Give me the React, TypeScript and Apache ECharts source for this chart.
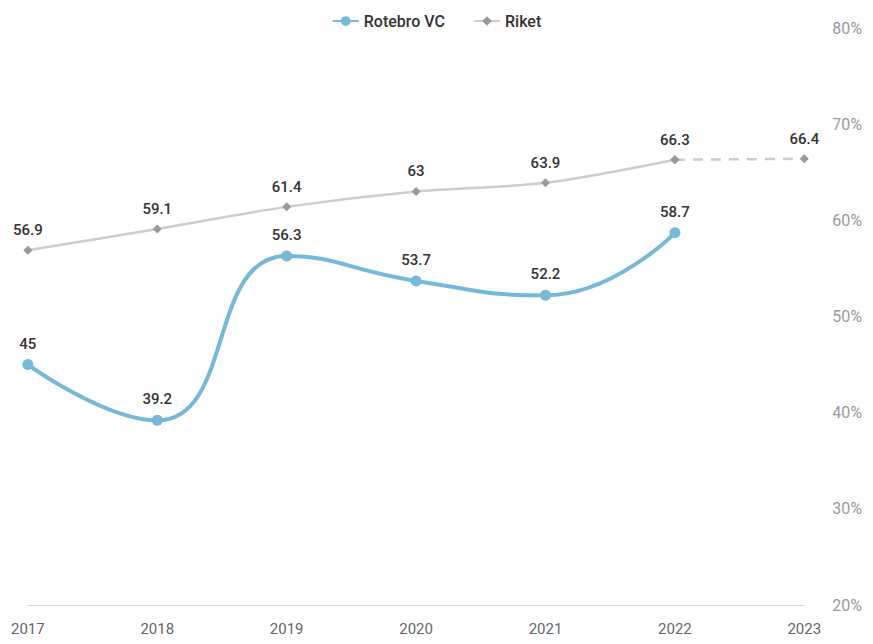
import React, { useEffect, useRef } from "react";
import * as echarts from "echarts";

const years = ["2017", "2018", "2019", "2020", "2021", "2022", "2023"];
const rotebro = [45, 39.2, 56.3, 53.7, 52.2, 58.7, null];
const riket = [56.9, 59.1, 61.4, 63, 63.9, 66.3, null];
const riketForecast = [null, null, null, null, null, 66.3, 66.4];

const FONT = "Roboto, 'Noto Sans', sans-serif";

export default function App() {
  const ref = useRef<HTMLDivElement>(null);
  useEffect(() => {
    const chart = echarts.init(ref.current!, null, { renderer: "svg" });
    const label = {
      show: true,
      position: "top",
      color: "#333",
      fontSize: 15,
      fontWeight: 500,
      fontFamily: FONT,
      distance: 8,
    };
    chart.setOption({
      animation: false,
      textStyle: { fontFamily: FONT },
      legend: {
        top: 0,
        left: "center",
        itemGap: 28,
        itemWidth: 26,
        itemHeight: 12,
        textStyle: { color: "#333", fontSize: 16, fontWeight: 500, fontFamily: FONT },
        data: ["Rotebro VC", "Riket"],
      },
      grid: { left: 14, right: 57, top: 20, bottom: 28 },
      xAxis: {
        type: "category",
        data: years,
        boundaryGap: false,
        axisLine: { lineStyle: { color: "#ccd6eb" } },
        axisTick: { show: false },
        axisLabel: { color: "#666", fontSize: 15, fontFamily: FONT, margin: 16 },
      },
      yAxis: {
        type: "value",
        position: "right",
        min: 20,
        max: 80,
        interval: 10,
        splitLine: { show: false },
        axisLabel: {
          color: "#999",
          fontSize: 16,
          fontFamily: FONT,
          margin: 28,
          formatter: "{value}%",
        },
      },
      series: [
        {
          name: "Rotebro VC",
          type: "line",
          data: rotebro,
          smooth: 0.5,
          symbol: "circle",
          symbolSize: 11,
          lineStyle: { color: "#74b9da", width: 4 },
          itemStyle: { color: "#74b9da" },
          label,
          z: 3,
        },
        {
          name: "Riket",
          type: "line",
          data: riket,
          smooth: 0.3,
          symbol: "diamond",
          symbolSize: 9,
          lineStyle: { color: "#cccccc", width: 2.5 },
          itemStyle: { color: "#999999" },
          label,
          z: 2,
        },
        {
          name: "Riket",
          type: "line",
          data: riketForecast,
          symbol: "diamond",
          symbolSize: 9,
          lineStyle: { color: "#cccccc", width: 2.5, type: [10, 8] },
          itemStyle: { color: "#999999" },
          label: {
            ...label,
            formatter: (p: any) => (p.dataIndex === 6 ? String(p.value) : ""),
          },
          z: 2,
        },
      ],
    });
    return () => chart.dispose();
  }, []);
  return <div ref={ref} style={{ width: 857, height: 628 }} />;
}
